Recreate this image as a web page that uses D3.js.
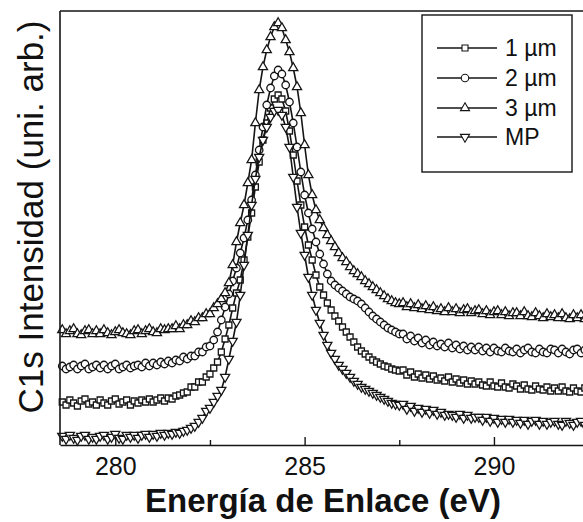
<!DOCTYPE html>
<html>
<head>
<meta charset="utf-8">
<script src="https://cdn.jsdelivr.net/npm/d3@7"></script>
<style>
  html, body { margin: 0; padding: 0; background: #fff; }
  svg { display: block; }
  text { font-family: "Liberation Sans", Arial, Helvetica, sans-serif; fill: #111; }
</style>
</head>
<body>
<svg id="chart" width="583" height="522"></svg>
<script>
// Binding energy grid (eV)
const energies = [
  278.6,278.7,278.8,278.9,279.0,279.1,279.2,279.3,279.4,279.5,
  279.6,279.7,279.8,279.9,280.0,280.1,280.2,280.3,280.4,280.5,
  280.6,280.7,280.8,280.9,281.0,281.1,281.2,281.3,281.4,281.5,
  281.6,281.7,281.8,281.9,282.0,282.1,282.2,282.3,282.4,282.5,
  282.6,282.7,282.8,282.9,283.0,283.1,283.2,283.3,283.4,283.5,
  283.6,283.7,283.8,283.9,284.0,284.1,284.2,284.3,284.4,284.5,
  284.6,284.7,284.8,284.9,285.0,285.1,285.2,285.3,285.4,285.5,
  285.6,285.7,285.8,285.9,286.0,286.1,286.2,286.3,286.4,286.5,
  286.6,286.7,286.8,286.9,287.0,287.1,287.2,287.3,287.4,287.5,
  287.6,287.7,287.8,287.9,288.0,288.1,288.2,288.3,288.4,288.5,
  288.6,288.7,288.8,288.9,289.0,289.1,289.2,289.3,289.4,289.5,
  289.6,289.7,289.8,289.9,290.0,290.1,290.2,290.3,290.4,290.5,
  290.6,290.7,290.8,290.9,291.0,291.1,291.2,291.3,291.4,291.5,
  291.6,291.7,291.8,291.9,292.0,292.1,292.2,292.3,292.4,292.5
];

// Intensities (arbitrary units, stacked spectra)
const s1um = [
  43,40,45,42,39,44,46,41,43,40,
  45,42,40,44,46,41,43,45,40,44,
  42,45,43,46,43,45,47,44,47,46,
  49,50,52,53,58,58,63,63,68,71,
  77,83,93,106,120,137,152,165,185,208,
  232,258,283,305,322,337,346,350,346,334,
  314,290,264,240,218,200,185,170,158,150,
  142,135,129,124,118,113,108,103,98,94,
  91,88,85,83,81,79,78,76,75,74,
  75,70,73,68,71,67,70,66,69,65,
  67,64,68,63,66,62,65,61,64,61,
  63,60,59,63,59,58,62,58,57,61,
  59,56,60,56,55,59,56,55,58,54,
  57,54,58,54,53,57,54,53,57,54
];
const s2um = [
  79,76,78,80,76,79,81,76,78,80,
  77,80,76,79,81,76,78,80,77,79,
  80,78,82,79,82,80,83,81,84,82,
  85,84,88,86,89,89,93,93,98,99,
  105,113,125,138,151,164,177,192,207,225,
  245,270,295,318,340,357,369,375,371,360,
  343,322,298,273,250,232,216,203,191,181,
  171,164,160,157,154,151,148,146,144,141,
  137,133,129,126,123,120,117,115,113,111,
  111,106,109,104,107,102,105,100,103,99,
  101,98,102,97,100,96,99,95,98,95,
  98,94,97,93,97,94,93,97,94,93,
  96,92,95,97,93,92,96,93,92,96,
  95,92,96,93,91,95,96,92,95,93
];
const s3um = [
  115,111,114,116,111,110,114,115,111,114,
  111,115,112,110,113,115,112,111,110,114,
  115,111,114,116,113,112,116,115,116,116,
  119,116,120,120,124,123,127,127,131,131,
  137,141,146,152,162,180,203,222,240,262,
  285,322,355,378,395,408,418,422,417,405,
  393,377,358,332,300,270,250,235,225,217,
  210,204,198,192,187,183,178,174,171,168,
  164,161,158,155,152,149,146,144,142,141,
  142,138,141,137,140,136,139,135,138,134,
  136,133,137,133,136,132,135,136,132,134,
  135,131,134,130,133,134,130,133,129,132,
  132,129,133,129,128,132,129,127,131,128,
  130,127,131,127,126,130,127,130,126,129
];
const sMP = [
  9,6,10,7,5,9,10,6,8,6,
  9,10,6,8,11,7,6,10,8,10,
  7,10,11,8,11,9,12,10,12,11,
  13,12,14,15,17,19,23,27,34,37,
  43,49,55,68,86,104,123,150,180,210,
  240,266,288,305,318,328,334,335,330,318,
  298,268,238,212,190,168,150,135,122,110,
  100,92,86,80,76,72,68,64,61,58,
  56,54,52,50,48,46,44,42,41,40,
  41,36,39,34,37,33,36,32,35,31,
  33,30,31,30,28,31,27,30,27,28,
  28,25,28,24,27,23,26,23,26,23,
  25,22,25,21,24,25,21,24,21,23,
  24,21,20,24,22,20,23,24,20,23
];

const seriesNames = ["1 \u00b5m", "2 \u00b5m", "3 \u00b5m", "MP"];
const seriesValues = [s1um, s2um, s3um, sMP];
const majorTicks = [280, 285, 290];
const minorTicks = [282.5, 287.5];
const xTitle = "Energía de Enlace (eV)";
const yTitle = "C1s Intensidad (uni. arb.)";

(function () {
const svg = d3.select("#chart");
const mLeft = 60, mTop = 11, mBottom = 445;

const x = d3.scaleLinear().domain([278.54, 292.6]).range([mLeft, 592.4]);
const y = d3.scaleLinear().domain([0, 434]).range([mBottom, mTop]);

const ink = "#151515";

const symbols = [
  d3.symbol().type(d3.symbolSquare).size(36),
  d3.symbol().type(d3.symbolCircle).size(44),
  d3.symbol().type(d3.symbolTriangle).size(36),
  d3.symbol().type(d3.symbolTriangle).size(36)
];
const rotations = [0, 0, 0, 180];

const line = d3.line().x((d, i) => x(energies[i])).y(d => y(d));

const plot = svg.append("g");
seriesValues.forEach((vals, si) => {
  const g = plot.append("g");
  g.append("path")
    .datum(vals)
    .attr("d", line)
    .attr("fill", "none")
    .attr("stroke", ink)
    .attr("stroke-width", 1.6);
  g.selectAll("path.m")
    .data(vals)
    .join("path")
    .attr("class", "m")
    .attr("d", symbols[si])
    .attr("transform", (d, i) => `translate(${x(energies[i])},${y(d)}) rotate(${rotations[si]})`)
    .attr("fill", "#fff")
    .attr("stroke", ink)
    .attr("stroke-width", 1.3);
});

// Frame lines
svg.append("line").attr("x1", mLeft).attr("x2", 583).attr("y1", mTop).attr("y2", mTop)
  .attr("stroke", ink).attr("stroke-width", 1.6);
svg.append("line").attr("x1", mLeft).attr("x2", mLeft).attr("y1", mTop).attr("y2", mBottom)
  .attr("stroke", ink).attr("stroke-width", 1.6);

// Bottom axis (inward ticks)
const xAxis = d3.axisBottom(x).tickValues(majorTicks).tickFormat(d3.format("d"))
  .tickSizeInner(-8).tickSizeOuter(0).tickPadding(12);
const gx = svg.append("g").attr("transform", `translate(0,${mBottom})`).call(xAxis);
gx.select(".domain").attr("stroke", ink).attr("stroke-width", 1.6);
gx.selectAll(".tick line").attr("stroke", ink).attr("stroke-width", 1.4);
gx.selectAll(".tick text").style("font-size", "25px").attr("fill", ink)
  .style("font-family", "'Liberation Sans', Arial, sans-serif");

const xMinor = d3.axisBottom(x).tickValues(minorTicks).tickFormat("")
  .tickSizeInner(-5).tickSizeOuter(0);
const gm = svg.append("g").attr("transform", `translate(0,${mBottom})`).call(xMinor);
gm.select(".domain").remove();
gm.selectAll(".tick line").attr("stroke", ink).attr("stroke-width", 1.4);

// Titles
svg.append("text").attr("x", 323).attr("y", 512).attr("text-anchor", "middle")
  .style("font-size", "33px").style("font-weight", "bold").text(xTitle);
svg.append("text").attr("transform", "translate(43,217) rotate(-90)")
  .attr("text-anchor", "middle").style("font-size", "35px").text(yTitle);

// Legend
const lg = svg.append("g");
lg.append("rect").attr("x", 422).attr("y", 15).attr("width", 150).attr("height", 157)
  .attr("fill", "#fff").attr("stroke", ink).attr("stroke-width", 1.4);
const rowsY = [48, 78, 108, 137];
seriesNames.forEach((name, si) => {
  const yy = rowsY[si];
  lg.append("line").attr("x1", 437).attr("x2", 497).attr("y1", yy).attr("y2", yy)
    .attr("stroke", ink).attr("stroke-width", 1.3);
  lg.append("path").attr("d", symbols[si])
    .attr("transform", `translate(465,${yy}) rotate(${rotations[si]})`)
    .attr("fill", "#fff").attr("stroke", ink).attr("stroke-width", 1.1);
  lg.append("text").attr("x", 505).attr("y", yy + 8).style("font-size", "23px").text(name);
});
})();
</script>
</body>
</html>
